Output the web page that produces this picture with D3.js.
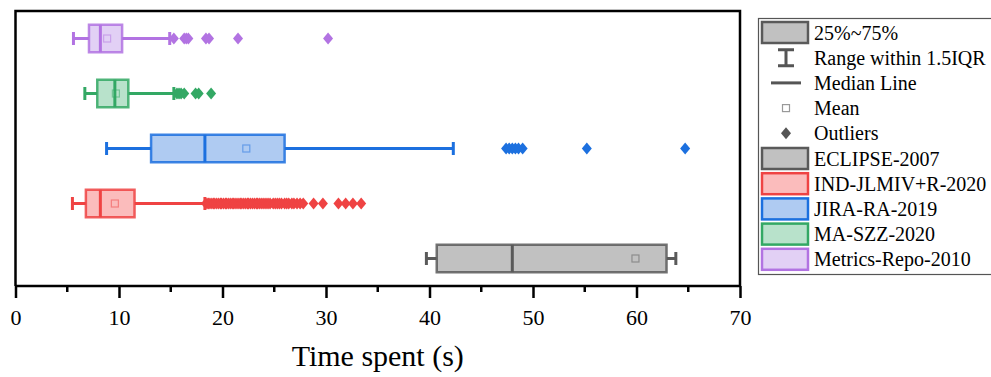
<!DOCTYPE html>
<html>
<head>
<meta charset="utf-8">
<script src="https://cdn.jsdelivr.net/npm/d3@7"></script>
<style>
  body { margin: 0; background: #fff; }
  svg { display: block; font-family: "Liberation Serif", "DejaVu Serif", serif; }
</style>
</head>
<body>
<svg id="chart" width="991" height="377"></svg>
<script>
// Box plot data (seconds)
var categories = ["ECLIPSE-2007", "IND-JLMIV+R-2020", "JIRA-RA-2019", "MA-SZZ-2020", "Metrics-Repo-2010"];
var whiskerLow  = [39.7, 5.5, 8.8, 6.7, 5.6];
var q1          = [40.7, 6.8, 13.1, 7.9, 7.1];
var medians     = [48.0, 8.2, 18.3, 9.6, 8.2];
var q3          = [62.9, 11.5, 26.0, 10.9, 10.3];
var whiskerHigh = [63.8, 18.3, 42.3, 15.3, 14.9];
var means       = [59.9, 9.6, 22.3, 9.7, 8.85];
var outliers = [
  [],
  [18.4, 18.6, 18.7, 18.9, 19.1, 19.2, 19.4, 19.6, 19.8, 19.9, 20.1, 20.3, 20.4, 20.6, 20.8,
   21.0, 21.1, 21.3, 21.5, 21.7, 21.8, 22.0, 22.2, 22.4, 22.5, 22.7, 22.9, 23.1, 23.3, 23.4,
   23.6, 23.8, 24.0, 24.2, 24.4, 24.6, 24.9, 25.1, 25.3, 25.5, 25.7, 26.0, 26.2, 26.4, 26.7,
   26.9, 27.2, 27.5, 27.8, 28.8, 29.7, 31.2, 31.9, 32.6, 33.4],
  [47.4, 47.7, 48.0, 48.3, 48.6, 49.0, 55.2, 64.7],
  [15.6, 15.8, 16.0, 16.3, 17.4, 17.7, 18.9],
  [15.3, 16.3, 16.5, 16.7, 18.4, 18.7, 21.5, 30.2]
];
var xTicks = [0, 10, 20, 30, 40, 50, 60, 70];
var xMinorTicks = [5, 15, 25, 35, 45, 55, 65];

var strokes = ["#5a5a5a", "#ef4343", "#1c70df", "#33a864", "#b273e2"];
var fills   = ["#c1c1c1", "#fbbcbc", "#afcbf2", "#b8e2cb", "#e2d0f5"];

var serif = "'Liberation Serif', 'DejaVu Serif', serif";
var svg = d3.select("#chart");
var plot = { left: 15.5, right: 740, top: 11, bottom: 286 };

var x = d3.scaleLinear().domain([0, 70]).range([plot.left, plot.right]);
// top row is the last category
var y = d3.scaleBand().domain(categories.slice().reverse()).range([plot.top, plot.bottom]);
var boxH = y.bandwidth() * 0.5;
var capH = 13;

var rows = categories.map(function(c, i) {
  return { name: c, lo: whiskerLow[i], q1: q1[i], med: medians[i], q3: q3[i], hi: whiskerHigh[i],
           mean: means[i], out: outliers[i], stroke: strokes[i], fill: fills[i] };
});

function diamond(cx, cy) {
  return "M" + cx + "," + (cy - 6) + "L" + (cx + 5) + "," + cy + "L" + cx + "," + (cy + 6) + "L" + (cx - 5) + "," + cy + "Z";
}

var g = svg.append("g").selectAll("g.box").data(rows).enter().append("g").attr("class", "box")
  .attr("transform", function(d) { return "translate(0," + (y(d.name) + y.bandwidth() / 2) + ")"; });

// whiskers
g.append("line").attr("x1", function(d) { return x(d.lo); }).attr("x2", function(d) { return x(d.q1); })
  .attr("stroke", function(d) { return d.stroke; }).attr("stroke-width", 3);
g.append("line").attr("x1", function(d) { return x(d.q3); }).attr("x2", function(d) { return x(d.hi); })
  .attr("stroke", function(d) { return d.stroke; }).attr("stroke-width", 3);
g.append("line").attr("x1", function(d) { return x(d.lo); }).attr("x2", function(d) { return x(d.lo); })
  .attr("y1", -capH / 2).attr("y2", capH / 2)
  .attr("stroke", function(d) { return d.stroke; }).attr("stroke-width", 3);
g.append("line").attr("x1", function(d) { return x(d.hi); }).attr("x2", function(d) { return x(d.hi); })
  .attr("y1", -capH / 2).attr("y2", capH / 2)
  .attr("stroke", function(d) { return d.stroke; }).attr("stroke-width", 3);

// box
g.append("rect")
  .attr("x", function(d) { return x(d.q1); })
  .attr("width", function(d) { return x(d.q3) - x(d.q1); })
  .attr("y", -boxH / 2).attr("height", boxH)
  .attr("fill", function(d) { return d.fill; })
  .attr("stroke", function(d) { return d.stroke; }).attr("stroke-opacity", 0.85).attr("stroke-width", 2.5);

// median
g.append("line").attr("x1", function(d) { return x(d.med); }).attr("x2", function(d) { return x(d.med); })
  .attr("y1", -boxH / 2).attr("y2", boxH / 2)
  .attr("stroke", function(d) { return d.stroke; }).attr("stroke-width", 3);

// mean
g.append("rect")
  .attr("x", function(d) { return x(d.mean) - 3.5; }).attr("y", -3.5)
  .attr("width", 7).attr("height", 7).attr("fill", "none")
  .attr("stroke", function(d) { return d.stroke; }).attr("stroke-opacity", 0.5).attr("stroke-width", 1.2);

// outliers
g.selectAll("path.out").data(function(d) { return d.out.map(function(v) { return { v: v, c: d.stroke }; }); })
  .enter().append("path").attr("class", "out")
  .attr("d", function(d) { return diamond(x(d.v), 0); })
  .attr("fill", function(d) { return d.c; });

// frame
svg.append("path")
  .attr("d", "M" + plot.left + "," + plot.bottom + "V" + plot.top + "H" + plot.right + "V" + plot.bottom)
  .attr("fill", "none").attr("stroke", "#000").attr("stroke-width", 2.5);

// x axis
var axis = svg.append("g").attr("transform", "translate(0," + plot.bottom + ")")
  .call(d3.axisBottom(x).tickValues(xTicks).tickSize(12).tickPadding(11).tickFormat(d3.format("d")));
axis.select(".domain").attr("stroke-width", 2.5).attr("d", "M" + plot.left + ",0H" + plot.right);
axis.selectAll(".tick line").attr("stroke-width", 2.5);
axis.selectAll(".tick text").style("font-family", serif).style("font-size", "22px").attr("fill", "#000");
svg.append("g").attr("transform", "translate(0," + plot.bottom + ")")
  .selectAll("line").data(xMinorTicks).enter().append("line")
  .attr("x1", function(d) { return x(d); }).attr("x2", function(d) { return x(d); })
  .attr("y1", 0).attr("y2", 6).attr("stroke", "#000").attr("stroke-width", 2.5);

svg.append("text").attr("x", (plot.left + plot.right) / 2).attr("y", 366)
  .attr("text-anchor", "middle").style("font-family", serif).style("font-size", "30px").text("Time spent (s)");

// legend
var leg = svg.append("g");
leg.append("rect").attr("x", 758.5).attr("y", 18.5).attr("width", 240).attr("height", 256)
  .attr("fill", "#fff").attr("stroke", "#555").attr("stroke-width", 1.2);

var legRows = ["25%~75%", "Range within 1.5IQR", "Median Line", "Mean", "Outliers"].concat(categories);
var legY = function(i) { return 32.5 + i * 25.2; };
var sw = { x: 762, w: 46, h: 21, cx: 786 };

legRows.forEach(function(t, i) {
  var cy = legY(i);
  if (i === 0 || i >= 5) {
    var k = i === 0 ? 0 : i - 5;
    leg.append("rect").attr("x", sw.x).attr("y", cy - sw.h / 2).attr("width", sw.w).attr("height", sw.h)
      .attr("fill", fills[k]).attr("stroke", strokes[k]).attr("stroke-width", 2.5);
  } else if (i === 1) {
    leg.append("path").attr("d", "M778," + (cy - 8) + "H794M786," + (cy - 8) + "V" + (cy + 8) + "M778," + (cy + 8) + "H794")
      .attr("fill", "none").attr("stroke", "#555").attr("stroke-width", 3);
  } else if (i === 2) {
    leg.append("line").attr("x1", 771).attr("x2", 801).attr("y1", cy).attr("y2", cy)
      .attr("stroke", "#555").attr("stroke-width", 3);
  } else if (i === 3) {
    leg.append("rect").attr("x", sw.cx - 3.5).attr("y", cy - 3.5).attr("width", 7).attr("height", 7)
      .attr("fill", "none").attr("stroke", "#999").attr("stroke-width", 1.2);
  } else {
    leg.append("path").attr("d", diamond(sw.cx, cy)).attr("fill", "#555");
  }
  leg.append("text").attr("x", 814).attr("y", cy).attr("dy", "0.35em")
    .style("font-family", serif).style("font-size", "20px").text(t);
});
</script>
</body>
</html>
